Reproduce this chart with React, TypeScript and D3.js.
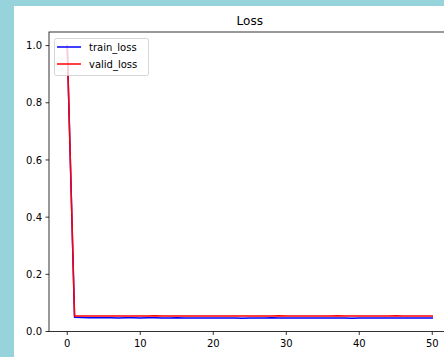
import React from "react";
import * as d3 from "d3";

const epochs: number[] = Array.from({ length: 51 }, (_, i) => i);
const trainLoss: number[] = [
  1.0, 0.05, 0.049, 0.048, 0.048, 0.048, 0.048, 0.047, 0.048, 0.048,
  0.047, 0.048, 0.048, 0.047, 0.047, 0.048, 0.047, 0.047, 0.047, 0.047,
  0.047, 0.047, 0.047, 0.047, 0.046, 0.047, 0.047, 0.047, 0.048, 0.047,
  0.047, 0.047, 0.047, 0.047, 0.047, 0.047, 0.047, 0.047, 0.047, 0.046,
  0.047, 0.047, 0.047, 0.047, 0.047, 0.047, 0.047, 0.047, 0.047, 0.047, 0.047,
];
const validLoss: number[] = [
  1.0, 0.054, 0.054, 0.054, 0.054, 0.054, 0.054, 0.054, 0.054, 0.054,
  0.054, 0.054, 0.055, 0.054, 0.054, 0.054, 0.054, 0.054, 0.054, 0.054,
  0.054, 0.054, 0.054, 0.054, 0.054, 0.054, 0.054, 0.054, 0.054, 0.055,
  0.054, 0.054, 0.054, 0.054, 0.054, 0.054, 0.054, 0.055, 0.054, 0.054,
  0.054, 0.054, 0.054, 0.054, 0.054, 0.055, 0.054, 0.054, 0.054, 0.054, 0.054,
];
const xTicks: number[] = [0, 10, 20, 30, 40, 50];
const yTicks: number[] = [0.0, 0.2, 0.4, 0.6, 0.8, 1.0];
const seriesNames: string[] = ["train_loss", "valid_loss"];
const seriesColors: string[] = ["blue", "red"];

const W = 444;
const H = 357;
const left = 49;
const right = 450.5;
const top = 32;
const bottom = 331.5;
const FONT = "DejaVu Sans, sans-serif";

export default function App() {
  const x = d3.scaleLinear().domain([-2.5, 52.5]).range([left, right]);
  const y = d3.scaleLinear().domain([0, 1.0476]).range([bottom, top]);
  const series = [trainLoss, validLoss];
  const line = d3
    .line<number>()
    .x((_, i) => x(epochs[i]))
    .y((d) => y(d));

  return (
    <svg
      width={W}
      height={H}
      style={{ position: "fixed", left: 0, top: 0 }}
      fontFamily={FONT}
    >
      <rect x={0} y={0} width={W} height={H} fill="#97d3db" />
      <rect x={14} y={6} width={W - 14} height={H - 6} fill="#ffffff" />
      <text x={(left + right) / 2} y={25} textAnchor="middle" fontSize={12} fill="#000">
        Loss
      </text>
      <defs>
        <clipPath id="plotclip">
          <rect x={left} y={top} width={right - left} height={bottom - top} />
        </clipPath>
      </defs>
      <g clipPath="url(#plotclip)">
        {series.map((s, k) => (
          <path
            key={k}
            d={line(s) || ""}
            fill="none"
            stroke={seriesColors[k]}
            strokeWidth={1.5}
            strokeLinejoin="round"
            strokeLinecap="square"
          />
        ))}
      </g>
      <rect
        x={left}
        y={top}
        width={right - left}
        height={bottom - top}
        fill="none"
        stroke="#000"
        strokeWidth={0.8}
      />
      {xTicks.map((t) => (
        <g key={"x" + t}>
          <line x1={x(t)} x2={x(t)} y1={bottom} y2={bottom + 3.5} stroke="#000" strokeWidth={0.8} />
          <text x={x(t)} y={bottom + 15} textAnchor="middle" fontSize={10} fill="#000">
            {String(t)}
          </text>
        </g>
      ))}
      {yTicks.map((t) => (
        <g key={"y" + t}>
          <line x1={left - 3.5} x2={left} y1={y(t)} y2={y(t)} stroke="#000" strokeWidth={0.8} />
          <text x={left - 7} y={y(t) + 3.6} textAnchor="end" fontSize={10} fill="#000">
            {t.toFixed(1)}
          </text>
        </g>
      ))}
      <rect
        x={54.5}
        y={38.5}
        width={94}
        height={37}
        rx={2}
        fill="#ffffff"
        fillOpacity={0.8}
        stroke="#cccccc"
        strokeWidth={0.8}
      />
      {seriesNames.map((n, k) => (
        <g key={n}>
          <line
            x1={57}
            x2={81}
            y1={47 + k * 17}
            y2={47 + k * 17}
            stroke={seriesColors[k]}
            strokeWidth={1.5}
          />
          <text x={89} y={50.5 + k * 17} fontSize={10} fill="#000">
            {n}
          </text>
        </g>
      ))}
    </svg>
  );
}
